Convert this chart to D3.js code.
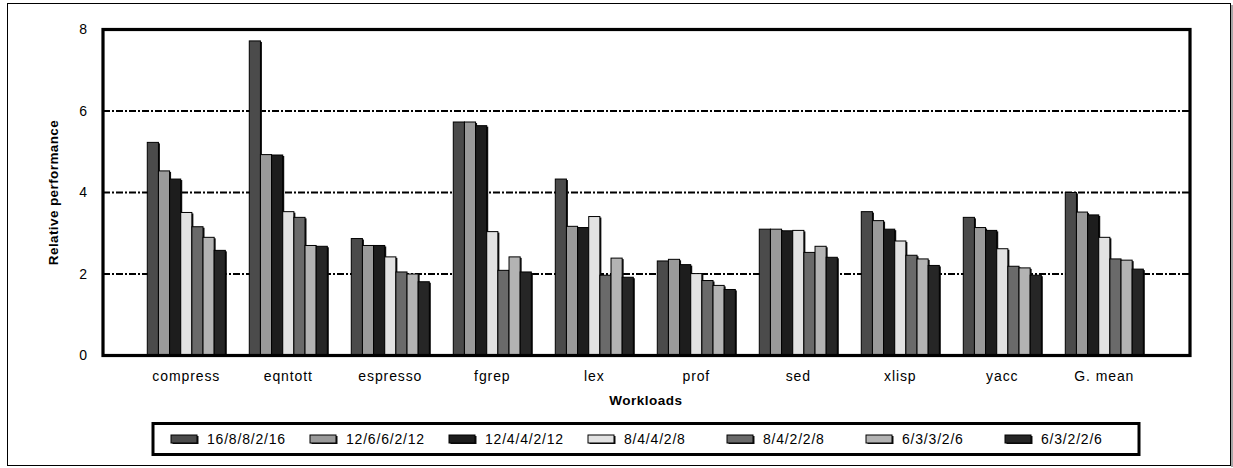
<!DOCTYPE html>
<html>
<head>
<meta charset="utf-8">
<script src="https://cdn.jsdelivr.net/npm/d3@7"></script>
<style>
  html, body { margin: 0; padding: 0; background: #fff; }
  svg { display: block; font-family: Arial, "Liberation Sans", sans-serif; }
</style>
</head>
<body>
<svg id="chart" width="1233" height="468"></svg>
<script>
// Workloads along the x axis
const categories = ["compress", "eqntott", "espresso", "fgrep", "lex", "prof", "sed", "xlisp", "yacc", "G. mean"];

// Machine configurations (one bar per configuration in each group)
const seriesNames = ["16/8/8/2/16", "12/6/6/2/12", "12/4/4/2/12", "8/4/4/2/8", "8/4/2/2/8", "6/3/3/2/6", "6/3/2/2/6"];

// Relative performance, one array per configuration, in workload order
const s16_8_8_2_16 = [5.23, 7.72, 2.87, 5.73, 4.33, 2.32, 3.10, 3.53, 3.39, 4.00];
const s12_6_6_2_12 = [4.53, 4.93, 2.70, 5.73, 3.17, 2.36, 3.10, 3.31, 3.14, 3.52];
const s12_4_4_2_12 = [4.33, 4.92, 2.70, 5.64, 3.14, 2.23, 3.06, 3.10, 3.07, 3.45];
const s8_4_4_2_8   = [3.51, 3.53, 2.42, 3.04, 3.41, 2.01, 3.07, 2.81, 2.62, 2.90];
const s8_4_2_2_8   = [3.16, 3.39, 2.05, 2.09, 1.97, 1.84, 2.53, 2.46, 2.19, 2.37];
const s6_3_3_2_6   = [2.90, 2.70, 2.00, 2.42, 2.39, 1.72, 2.68, 2.37, 2.15, 2.34];
const s6_3_2_2_6   = [2.58, 2.68, 1.81, 2.05, 1.92, 1.62, 2.41, 2.21, 1.97, 2.12];

const seriesValues = [s16_8_8_2_16, s12_6_6_2_12, s12_4_4_2_12, s8_4_4_2_8, s8_4_2_2_8, s6_3_3_2_6, s6_3_2_2_6];
const seriesColors = ["#4b4b4b", "#9a9a9a", "#1d1d1d", "#e2e2e2", "#6a6a6a", "#b3b3b3", "#262626"];

// Y axis ticks
const yTicks = [0, 2, 4, 6, 8];
const gridTicks = [2, 4, 6];

const svg = d3.select("#chart");

// Plot frame
const plot = { left: 103, right: 1190, top: 29.5, bottom: 355.5 };

const y = d3.scaleLinear().domain([0, 8]).range([plot.bottom, plot.top]);

const x0 = d3.scaleBand()
  .domain(categories)
  .range([135.3, 1155.3])
  .paddingInner(0.235)
  .paddingOuter(0.1175);

const x1 = d3.scaleBand()
  .domain(seriesNames)
  .range([0, x0.bandwidth()]);

// Outer chart border with a soft shadow on the right
svg.append("line")
  .attr("x1", 1232).attr("x2", 1232).attr("y1", 5).attr("y2", 467)
  .attr("stroke", "#8a8a8a").attr("stroke-width", 1.5);
svg.append("rect")
  .attr("x", 7.5).attr("y", 3.5).attr("width", 1223).attr("height", 462)
  .attr("fill", "none").attr("stroke", "#000").attr("stroke-width", 1);

// Dash-dot gridlines
svg.append("g").selectAll("line")
  .data(gridTicks)
  .join("line")
  .attr("x1", plot.left).attr("x2", plot.right)
  .attr("y1", d => y(d)).attr("y2", d => y(d))
  .attr("stroke", "#000").attr("stroke-width", 2)
  .attr("stroke-dasharray", "7,2,2,2");

// Bars
const groups = svg.append("g").selectAll("g")
  .data(categories)
  .join("g")
  .attr("transform", d => `translate(${x0(d)},0)`);

const barData = (cat, ci) => seriesNames.map((name, si) => ({ name, si, value: seriesValues[si][ci] }));

groups.each(function (cat, ci) {
  const g = d3.select(this);
  const data = barData(cat, ci);
  // drop shadow
  g.selectAll("rect.shadow")
    .data(data)
    .join("rect")
    .attr("class", "shadow")
    .attr("x", d => x1(d.name) + 1.5)
    .attr("y", d => y(d.value) + 1)
    .attr("width", x1.bandwidth())
    .attr("height", d => y(0) - y(d.value) - 1)
    .attr("fill", "#111");
  g.selectAll("rect.bar")
    .data(data)
    .join("rect")
    .attr("class", "bar")
    .attr("x", d => x1(d.name))
    .attr("y", d => y(d.value))
    .attr("width", x1.bandwidth())
    .attr("height", d => y(0) - y(d.value))
    .attr("fill", d => seriesColors[d.si])
    .attr("stroke", "#000")
    .attr("stroke-width", 1);
});

// Plot frame (thick)
svg.append("rect")
  .attr("x", plot.left).attr("y", plot.top)
  .attr("width", plot.right - plot.left).attr("height", plot.bottom - plot.top)
  .attr("fill", "none").attr("stroke", "#000").attr("stroke-width", 3.2);

// Y axis labels
const yAxis = d3.axisLeft(y).tickValues(yTicks).tickSize(0).tickPadding(16).tickFormat(d3.format("d"));
const yg = svg.append("g").attr("transform", `translate(${plot.left},0)`).call(yAxis);
yg.select(".domain").remove();
yg.selectAll("text")
  .attr("font-size", 14).attr("fill", "#000")
  .attr("font-family", "Arial, 'Liberation Sans', sans-serif");

// X axis labels
const xAxis = d3.axisBottom(x0).tickSize(0).tickPadding(16);
const xg = svg.append("g").attr("transform", `translate(0,${plot.bottom})`).call(xAxis);
xg.select(".domain").remove();
xg.selectAll("text")
  .attr("font-size", 14).attr("fill", "#000")
  .attr("letter-spacing", "0.9px")
  .attr("font-family", "Arial, 'Liberation Sans', sans-serif");

// Axis titles
svg.append("text")
  .attr("x", 646).attr("y", 405)
  .attr("text-anchor", "middle")
  .attr("font-size", 13.5).attr("font-weight", "bold")
  .attr("letter-spacing", "0.5px")
  .text("Workloads");

svg.append("text")
  .attr("transform", `translate(58,${(plot.top + plot.bottom) / 2}) rotate(-90)`)
  .attr("text-anchor", "middle")
  .attr("font-size", 13.5).attr("font-weight", "bold")
  .attr("letter-spacing", "0.4px")
  .text("Relative performance");

// Legend
const legend = svg.append("g");
legend.append("rect")
  .attr("x", 153).attr("y", 423.5).attr("width", 986).attr("height", 31)
  .attr("fill", "#fff").attr("stroke", "#000").attr("stroke-width", 3);

const items = legend.selectAll("g.item")
  .data(seriesNames)
  .join("g")
  .attr("class", "item")
  .attr("transform", (d, i) => `translate(${171 + i * 139},439)`);

items.append("rect")
  .attr("x", 1.5).attr("y", -3).attr("width", 26).attr("height", 8)
  .attr("fill", "#111");
items.append("rect")
  .attr("x", 0).attr("y", -4).attr("width", 26).attr("height", 8)
  .attr("fill", (d, i) => seriesColors[i])
  .attr("stroke", "#000").attr("stroke-width", 1);
items.append("text")
  .attr("x", 36).attr("y", 5)
  .attr("font-size", 14)
  .attr("letter-spacing", "0.8px")
  .text(d => d);
</script>
</body>
</html>
